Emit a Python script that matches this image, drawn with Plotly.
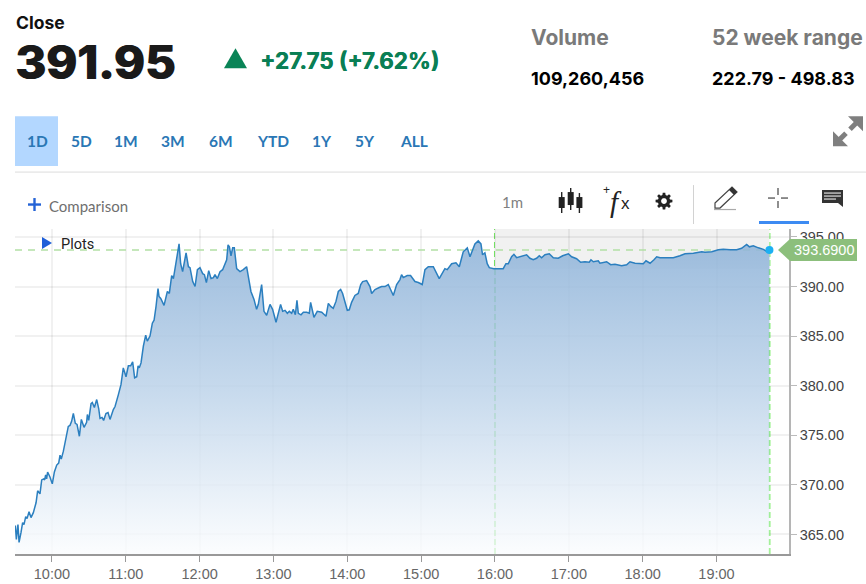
import math
import pandas as pd
import plotly.graph_objects as go

# Session trace: minutes after the 09:30 open, and the price at each of them
minutes_after_open = [
    0.3, 1.1, 2.4, 3.3, 4.9, 6.2, 7.3, 8.7, 9.8, 11.4, 13, 14.9, 17.1, 18.4, 20.3, 21.7, 23.3, 24.1, 24.9, 25.7,
    26.5, 28.4, 30.3, 32, 33.9, 35.5, 36.6, 37.6, 39.3, 41.4, 43.3, 44.7, 46, 47.4, 49, 50.4, 52.3, 53.9, 56.1, 58.2,
    58.8, 59.9, 61.8, 62.8, 64.5, 66.4, 68, 69.1, 70.7, 72, 73.9, 75.6, 77.2, 79.9, 81.3, 84, 86.1, 88, 90.2, 92.1,
    94, 95.6, 97.2, 98.9, 100, 101, 102.4, 104.3, 106.2, 107.5, 109.7, 111.6, 113, 114.6, 116.2, 117, 118.4, 121.1,
    123.8, 125.4, 127.3, 128.7, 130.3, 131.9, 133.3, 134.6, 136.2, 139, 140.9, 142.2, 144.4, 146.3, 148.2, 150.3,
    152.5, 153.9, 155.5, 157.4, 159.3, 161.2, 162.5, 164.4, 166.6, 168.7, 170.6, 172, 173.1, 174.2, 175.5, 176.9,
    178.2, 180.1, 182.8, 185.5, 188.2, 190.4, 191.7, 194.2, 196.3, 197.7, 200.4, 202.3, 204.5, 207.2, 209.3, 212.1,
    214, 215.8, 217.5, 219.4, 221.3, 222.9, 224.8, 226.1, 227.8, 229.1, 230.2, 232.4, 234.3, 237, 239.1, 240.2,
    242.9, 245.6, 249.2, 252.7, 254.6, 256.5, 258.6, 260.8, 262.7, 264.6, 266.2, 270, 271.6, 273.5, 276.2, 278.9,
    280.9, 282.5, 285.7, 288.4, 289.8, 292.5, 296, 297.9, 300.6, 303.3, 307.4, 310.1, 312.8, 314.1, 315.5, 318.7,
    321.4, 325, 327.7, 330.9, 333.1, 335.8, 339.9, 342, 344.7, 349.3, 351.2, 354.8, 358.3, 361, 364.2, 367.5, 369.7,
    373.7, 376.4, 378.6, 379.9, 381.8, 383.7, 385.4, 389.2, 392.7, 396.7, 398.9, 400.8, 403.5, 405.4, 407.6, 410.3,
    413, 415.7, 418.4, 421.1, 423.8, 426, 427.9, 430.6, 434.1, 437.4, 441.4, 445, 449.6, 452.3, 456.3, 459.6, 463.1,
    466.6, 468, 469.9, 473.9, 475.3, 480.7, 484, 487.5, 492.9, 497, 499.7, 503.8, 510.5, 512.7, 516, 519.2, 521.4,
    524.1, 529.5, 534.9, 540.3, 544.4, 551.2, 556.6, 558, 560.6, 566.1, 571.5, 575.5, 581, 586.4, 590.4, 594.5,
    596.7, 599.9, 604, 608.1, 611.3, 613,
]
prices = [
    365.9, 364.5, 366.0, 364.2, 365.2, 366.2, 366.0, 366.8, 366.6, 367.3, 366.7, 367.2, 368.2, 369.4, 369.1, 370.5, 370.6, 370.5, 371.0, 370.6,
    371.3, 370.8, 370.1, 371.3, 372.0, 372.2, 373.0, 372.6, 373.4, 374.9, 375.9, 376.0, 376.4, 377.2, 376.2, 376.1, 374.9, 376.6, 375.8, 376.3,
    377.1, 376.5, 378.2, 378.3, 377.8, 378.6, 377.7, 376.7, 376.8, 376.5, 377.2, 377.3, 376.6, 377.6, 377.9, 379.1, 380.1, 381.8, 380.9, 382.0,
    382.0, 382.4, 380.8, 380.9, 382.0, 381.8, 382.3, 384.0, 385.1, 384.5, 385.0, 386.3, 386.6, 388.0, 389.8, 389.0, 388.8, 388.1,
    389.5, 389.3, 391.1, 390.8, 392.0, 393.2, 394.3, 392.3, 391.5, 393.4, 392.0, 391.9, 390.5, 390.0, 391.7, 391.9,
    391.3, 391.2, 390.4, 391.6, 390.8, 390.9, 391.2, 390.8, 391.5, 391.7, 392.3, 392.7, 394.2, 394.0, 393.1, 393.9,
    393.9, 391.8, 391.5, 391.7, 392.0, 390.5, 389.5, 388.7, 387.7, 388.2, 390.2, 387.5, 387.1, 388.2, 387.7, 386.4,
    387.3, 388.2, 387.5, 387.6, 387.3, 387.5, 387.3, 387.7, 387.15, 388.6, 387.3, 387.15, 387.4, 387.4, 387.3, 388.4,
    386.9, 387.5, 387.4, 387.0, 388.3, 388.0, 387.8, 388.5, 389.5, 389.7, 389.3, 387.6, 387.65, 388.4, 389.1, 389.3,
    390.2, 390.5, 390.6, 390.0, 389.3, 389.7, 389.9, 390.0, 390.0, 390.2, 389.1, 390.2, 390.7, 391.2, 390.9, 391.1,
    391.1, 390.5, 390.4, 390.2, 391.7, 392.0, 392.0, 391.4, 390.8, 391.8, 391.7, 392.3, 392.4, 392.0, 393.5, 393.9, 393.0,
    394.3, 394.6, 394.3, 393.2, 393.4, 392.3, 391.9, 391.8, 391.8, 391.8, 392.3, 392.3, 393.0, 393.25, 392.9, 393.0,
    393.1, 393.2, 392.85, 392.7, 392.85, 393.1, 392.9, 393.2, 393.3, 392.9, 392.85, 393.1, 393.3, 393.0, 392.8, 392.45, 392.5,
    392.45, 392.7, 392.5, 392.6, 392.35, 392.5, 392.2, 392.25, 392.1, 392.2, 392.5, 392.35, 392.3, 392.6, 392.35, 392.7, 393.0,
    392.9, 392.9, 392.9, 393.1, 393.3, 393.35, 393.45, 393.5, 393.45, 393.5, 393.7, 393.75, 393.7, 393.7, 393.85, 394.25,
    394.0, 394.1, 393.9, 393.75, 393.5, 393.69,
]

# Axis ticks
hour_labels = ["10:00", "11:00", "12:00", "13:00", "14:00", "15:00", "16:00", "17:00", "18:00", "19:00"]
price_ticks = [365, 370, 375, 380, 385, 390, 395]

# Header figures and range buttons
close_label = "391.95"
change_label = "+27.75 (+7.62%)"
volume_label = "109,260,456"
range_label = "222.79 - 498.83"
range_buttons = ["1D", "5D", "1M", "3M", "6M", "YTD", "1Y", "5Y", "ALL"]
button_centres = [37, 81, 126, 173, 221, 273, 322, 365, 414]

DAY = "2022-11-10"
stamps = pd.Timestamp(f"{DAY} 09:30") + pd.to_timedelta(minutes_after_open, unit="m")
hour_stamps = [pd.Timestamp(f"{DAY} {h}") for h in hour_labels]
market_close = pd.Timestamp(f"{DAY} 16:00")
last_stamp, last_price = stamps[-1], prices[-1]
after_hours_low = min(p for t, p in zip(stamps, prices) if t >= market_close)

# Plot rectangle, in page pixels
W, H = 866, 584
LEFT, RIGHT, TOP, BOTTOM = 15, 789, 229, 554.5
Y_RANGE = [363.03, 395.8]
X_RANGE = [pd.Timestamp(f"{DAY} 09:30"), pd.Timestamp(f"{DAY} 09:30") + pd.Timedelta(minutes=628.9)]


def fx(px):
    return (px - LEFT) / (RIGHT - LEFT)


def fy(py):
    return (BOTTOM - py) / (BOTTOM - TOP)


def poly(points, close=True):
    body = " L ".join(f"{fx(x):.5f} {fy(y):.5f}" for x, y in points)
    return "M " + body + (" Z" if close else "")


def path_shape(points, fill=None, line=None, width=1, close=True):
    return dict(type="path", xref="paper", yref="paper", path=poly(points, close), layer="above",
                fillcolor=fill if fill else "rgba(0,0,0,0)",
                line=dict(color=line if line else "rgba(0,0,0,0)", width=width if line else 0))


def label(text, x, y, size, color, family="Lato", anchor="left", weight=None, shadow=None):
    font = dict(family=family, size=size, color=color)
    if weight:
        font["weight"] = weight
    if shadow:
        font["shadow"] = shadow
    return dict(text=text, xref="paper", yref="paper", x=fx(x), y=fy(y), xanchor=anchor, yanchor="middle",
                showarrow=False, font=font, borderpad=0)


def gear(cx, cy, outer, inner, teeth=8):
    pts = []
    for i in range(teeth):
        a = 2 * math.pi * i / teeth
        for da, r in ((-0.26, inner), (-0.15, outer), (0.15, outer), (0.26, inner)):
            pts.append((cx + r * math.cos(a + da), cy + r * math.sin(a + da)))
    return pts


def ring(cx, cy, r, n=16):
    return [(cx + r * math.cos(2 * math.pi * i / n), cy + r * math.sin(2 * math.pi * i / n)) for i in range(n)]


fig = go.Figure()
fig.add_trace(go.Scatter(
    x=stamps, y=prices, mode="lines",
    line=dict(color="#2b7fbf", width=1.5),
    fill="tozeroy",
    fillgradient=dict(type="vertical", start=395, stop=363.03,
                      colorscale=[[0, "rgba(141,178,216,0.88)"], [0.5, "rgba(190,212,234,0.85)"],
                                  [1, "rgba(250,252,254,0.8)"]]),
    hoverinfo="skip", showlegend=False,
))
fig.add_trace(go.Scatter(
    x=[last_stamp], y=[last_price], mode="markers", cliponaxis=False,
    marker=dict(color="#1cb0f2", size=8), hoverinfo="skip", showlegend=False,
))

GREEN_DASH = "#78ec66"
GRID = "rgba(0,0,0,0.055)"
shapes = [
    # After-hours band sits under the grid; reference price and session markers sit above it
    dict(type="rect", xref="x", yref="y", x0=market_close, x1=last_stamp, y0=after_hours_low, y1=Y_RANGE[1],
         fillcolor="#f1f1f1", line=dict(width=0), layer="below"),
    dict(type="line", xref="x", yref="y", x0=X_RANGE[0], x1=last_stamp, y0=last_price, y1=last_price,
         line=dict(color="#b3dfa5", width=1.4, dash="7px,6px"), layer="between"),
    dict(type="line", xref="x", yref="paper", x0=market_close, x1=market_close, y0=0, y1=1,
         line=dict(color=GREEN_DASH, width=2, dash="6px,3px"), layer="between"),
    dict(type="line", xref="x", yref="paper", x0=last_stamp, x1=last_stamp, y0=0, y1=1,
         line=dict(color=GREEN_DASH, width=2, dash="6px,3px"), layer="between"),
    # Selected range button and separators
    path_shape([(15, 116), (58, 116), (58, 166), (15, 166)], fill="#b3d7ff"),
    path_shape([(15, 172), (866, 172)], line="#dcdcdc", width=1, close=False),
    path_shape([(693.5, 185), (693.5, 224)], line="#d2d2d2", width=1, close=False),
    # Change triangle
    path_shape([(235.5, 48), (247, 68), (224, 68)], fill="#0a8457"),
    # Comparison plus
    path_shape([(28, 204.5), (41, 204.5)], line="#2463d6", width=2.4, close=False),
    path_shape([(34.5, 198), (34.5, 211)], line="#2463d6", width=2.4, close=False),
    # Plots disclosure triangle
    path_shape([(42, 237), (52, 243), (42, 249)], fill="#1f5fd8"),
    # Expand arrows
    path_shape([(833, 146), (833, 131), (848, 146)], fill="#7f7f7f"),
    path_shape([(863, 116), (848, 116), (863, 131)], fill="#7f7f7f"),
    path_shape([(838, 141), (846, 133)], line="#7f7f7f", width=5, close=False),
    path_shape([(850, 129), (858, 121)], line="#7f7f7f", width=5, close=False),
    # Candle icon
    path_shape([(561.7, 192), (561.7, 213)], line="#222", width=1.4, close=False),
    path_shape([(570.7, 188), (570.7, 210)], line="#222", width=1.4, close=False),
    path_shape([(579.4, 193), (579.4, 213)], line="#222", width=1.4, close=False),
    path_shape([(558.7, 197), (564.7, 197), (564.7, 208), (558.7, 208)], fill="#222"),
    path_shape([(567.7, 192), (573.7, 192), (573.7, 205), (567.7, 205)], fill="#222"),
    path_shape([(576.4, 197), (582.4, 197), (582.4, 208), (576.4, 208)], fill="#222"),
    # Gear icon
    path_shape(gear(664, 201, 8.5, 6.2), fill="#222"),
    path_shape(ring(664, 201, 2.9), fill="#fff"),
    # Pencil icon
    path_shape([(715, 203), (732, 187), (737, 192), (720, 208), (715, 208)], line="#444", width=1.2),
    path_shape([(729, 190), (732, 187), (737, 192), (734, 195)], fill="#333"),
    path_shape([(714, 209.5), (736, 209.5)], line="#aaa", width=1.2, close=False),
    # Crosshair icon and its active underline
    path_shape([(768, 198), (775, 198)], line="#444", width=1.2, close=False),
    path_shape([(781, 198), (788, 198)], line="#444", width=1.2, close=False),
    path_shape([(778, 188), (778, 195)], line="#444", width=1.2, close=False),
    path_shape([(778, 201), (778, 208)], line="#444", width=1.2, close=False),
    path_shape([(759, 221), (809, 221), (809, 224), (759, 224)], fill="#3d8bf2"),
    # Comment icon
    path_shape([(822, 190), (843, 190), (843, 207), (838, 203), (822, 203)], fill="#333"),
    path_shape([(824, 193), (841, 193)], line="#fff", width=1, close=False),
    path_shape([(824, 196), (841, 196)], line="#fff", width=1, close=False),
    path_shape([(824, 199), (836, 199)], line="#fff", width=1, close=False),
]

# Price tag beside the axis, centred on the last price
tag_y = BOTTOM - (last_price - Y_RANGE[0]) / (Y_RANGE[1] - Y_RANGE[0]) * (BOTTOM - TOP)
shapes.append(path_shape([(778, tag_y), (790, tag_y - 11), (857, tag_y - 11), (857, tag_y + 11),
                          (790, tag_y + 11)], fill="#8cbf7c"))

annotations = [
    label("Close", 15, 22, 17.5, "#111", family="Inter", weight=700),
    label(close_label, 14, 61, 47, "#1a1a1a", family="Inter", weight=800, shadow="1px 0 0 #1a1a1a"),
    label(change_label, 259, 60, 22.5, "#0a7f55", family="Inter", weight=700, shadow="0.5px 0 0 #0a7f55"),
    label("Volume", 530, 37, 21, "#7a7a7a", family="Inter", weight=700),
    label("52 week range", 711, 37, 21, "#7a7a7a", family="Inter", weight=700),
    label(volume_label, 530, 78, 18, "#000", family="Inter", weight=700),
    label(range_label, 711, 78, 18, "#000", family="Inter", weight=700),
    label("Comparison", 48, 206, 15, "#6f6f6f"),
    label("1m", 512, 202, 15, "#808080", anchor="center"),
    label("+", 606, 190, 12, "#222", family="Liberation Sans", anchor="center"),
    label("<i>f</i>", 616, 202, 29, "#222", family="Liberation Serif", anchor="center"),
    label("x", 620, 203, 17, "#222", family="Liberation Sans"),
    label("Plots", 60, 245, 14.5, "#222", family="Roboto"),
    label(f"{last_price:.4f}", 824, tag_y, 14.5, "#fff", family="Liberation Sans", anchor="center"),
]
for text, centre in zip(range_buttons, button_centres):
    annotations.append(label(text, centre, 141, 15.5, "#2a77b5", anchor="center", weight=700))

fig.update_layout(
    width=W, height=H, autosize=False,
    margin=dict(l=LEFT, r=W - RIGHT, t=TOP, b=H - BOTTOM, pad=0, autoexpand=False),
    paper_bgcolor="#fff", plot_bgcolor="#fff",
    shapes=shapes, annotations=annotations,
    xaxis=dict(
        type="date", range=X_RANGE, tickmode="array", tickvals=hour_stamps, ticktext=hour_labels,
        ticks="outside", ticklen=6, tickcolor="#999", showline=True, linecolor="#999", linewidth=1.5,
        gridcolor=GRID, gridwidth=1.5, zeroline=False, automargin=False,
        tickfont=dict(family="Liberation Sans", size=14.5, color="#666"),
    ),
    yaxis=dict(
        side="right", range=Y_RANGE, tickmode="array", tickvals=price_ticks,
        ticktext=[f"{p:.2f}" for p in price_ticks],
        ticks="outside", ticklen=6, tickcolor="#bbb", showline=True, linecolor="#b5b5b5", linewidth=1.5,
        gridcolor=GRID, gridwidth=1.5, zeroline=False, automargin=False,
        tickfont=dict(family="Liberation Sans", size=14.5, color="#444"),
    ),
)

fig.write_html("out.html", config=dict(displayModeBar=False))
